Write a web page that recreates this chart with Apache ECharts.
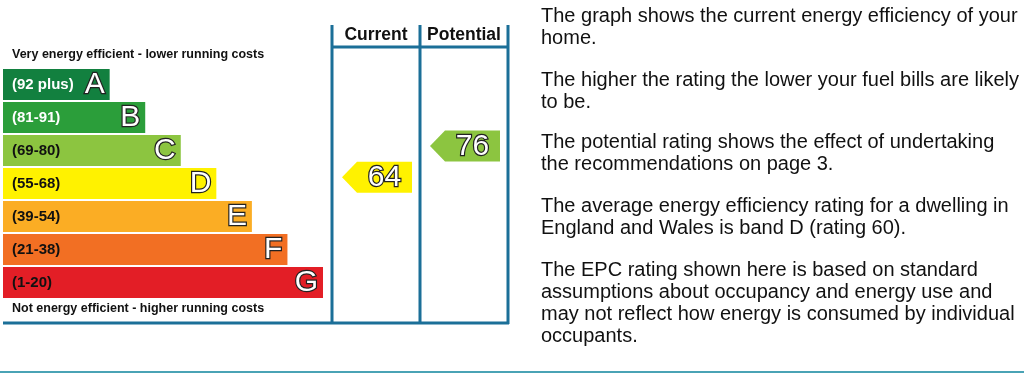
<!DOCTYPE html>
<html>
<head>
<meta charset="utf-8">
<script src="https://cdn.jsdelivr.net/npm/echarts@6/dist/echarts.min.js"></script>
<style>
html,body{margin:0;padding:0;background:#fff;}
#chart{width:1024px;height:373px;}
</style>
</head>
<body>
<div id="chart"></div>
<script>
// ---- data ----
const bands = ['A', 'B', 'C', 'D', 'E', 'F', 'G'];
const rangeLabels = ['(92 plus)', '(81-91)', '(69-80)', '(55-68)', '(39-54)', '(21-38)', '(1-20)'];
const bandLow = [92, 81, 69, 55, 39, 21, 1];
const bandHigh = [100, 91, 80, 68, 54, 38, 20];
const barLengths = [3, 4, 5, 6, 7, 8, 9];
const columns = ['Current', 'Potential'];
const ratings = [64, 76];
const topNote = 'Very energy efficient - lower running costs';
const bottomNote = 'Not energy efficient - higher running costs';
const paragraphs = [
  'The graph shows the current energy efficiency of your\nhome.',
  'The higher the rating the lower your fuel bills are likely\nto be.',
  'The potential rating shows the effect of undertaking\nthe recommendations on page 3.',
  'The average energy efficiency rating for a dwelling in\nEngland and Wales is band D (rating 60).',
  'The EPC rating shown here is based on standard\nassumptions about occupancy and energy use and\nmay not reflect how energy is consumed by individual\noccupants.'
];

// ---- styles ----
const bandColors = ['#12803f', '#2b9e3a', '#8cc540', '#fff200', '#fbad24', '#f26f23', '#e31e26'];
const labelColors = ['#ffffff', '#ffffff', '#111111', '#111111', '#111111', '#111111', '#111111'];
const lineColor = '#1b6f98';
const FONT = '"Liberation Sans", Arial, sans-serif';

function bandOf(v) {
  for (let i = 0; i < bands.length; i++) if (v >= bandLow[i]) return i;
  return bands.length - 1;
}
const arrowData = ratings.map((v, i) => [i, bandOf(v), v]);

const chart = echarts.init(document.getElementById('chart'), null, {renderer: 'canvas'});

const paraTops = [5, 69, 131, 195, 259];

const option = {
  animation: false,
  textStyle: {fontFamily: FONT},
  grid: [
    {left: 3, top: 68, width: 320, height: 231},
    {left: 332, top: 68, width: 176, height: 231}
  ],
  xAxis: [
    {gridIndex: 0, type: 'value', min: 0, max: 9, show: false},
    {gridIndex: 1, type: 'category', data: columns, position: 'top',
     axisLine: {show: false}, axisTick: {show: false}, splitLine: {show: false},
     axisLabel: {show: true, interval: 0, hideOverlap: false, margin: 24, fontSize: 17.5, fontWeight: 'bold', color: '#111', fontFamily: FONT}}
  ],
  yAxis: [
    {gridIndex: 0, type: 'category', data: bands, inverse: true, show: false},
    {gridIndex: 1, type: 'category', data: bands, inverse: true, show: false}
  ],
  series: [
    {
      type: 'bar', xAxisIndex: 0, yAxisIndex: 0, barWidth: 31,
      data: barLengths.map((v, i) => ({
        value: v,
        itemStyle: {color: bandColors[i]},
        label: {color: labelColors[i]}
      })),
      label: {
        show: true, position: 'insideLeft', distance: 9,
        fontSize: 15, fontWeight: 'bold', fontFamily: FONT,
        formatter: p => rangeLabels[p.dataIndex]
      }
    },
    {
      type: 'bar', xAxisIndex: 0, yAxisIndex: 0, barWidth: 31, barGap: '-100%',
      data: barLengths,
      itemStyle: {color: 'rgba(0,0,0,0)'},
      label: {
        show: true, position: 'insideRight', distance: 5,
        fontSize: 30, fontFamily: FONT, color: '#ffffff',
        textBorderColor: '#222222', textBorderWidth: 2.4,
        formatter: p => bands[p.dataIndex]
      }
    },
    {
      type: 'custom', xAxisIndex: 1, yAxisIndex: 1,
      data: arrowData,
      renderItem: function (params, api) {
        const col = api.value(0), b = api.value(1), v = api.value(2);
        const c = api.coord([col, b]);
        const sz = api.size([1, 1]);
        const cw = sz[0], bh = sz[1];
        const frac = (v - bandLow[b]) / (bandHigh[b] - bandLow[b]);
        const yc = c[1] - bh / 2 + (1 - frac) * bh;
        const h = 31;
        const x0 = c[0] - cw / 2 + 10;
        const x1 = c[0] + cw / 2 - 8;
        const tip = 15;
        return {
          type: 'group',
          children: [
            {type: 'polygon', shape: {points: [[x0, yc], [x0 + tip, yc - h / 2], [x1, yc - h / 2], [x1, yc + h / 2], [x0 + tip, yc + h / 2]]},
             style: {fill: bandColors[b]}},
            {type: 'text', style: {text: String(v), x: (x0 + tip + x1) / 2, y: yc + 1, align: 'center', verticalAlign: 'middle',
             font: '30px ' + FONT, fill: '#ffffff', stroke: '#222222', lineWidth: 2.4}}
          ]
        };
      }
    }
  ],
  graphic: [
    {type: 'line', shape: {x1: 332, y1: 25, x2: 332, y2: 324}, style: {stroke: lineColor, lineWidth: 3}},
    {type: 'line', shape: {x1: 420, y1: 25, x2: 420, y2: 324}, style: {stroke: lineColor, lineWidth: 3}},
    {type: 'line', shape: {x1: 508, y1: 25, x2: 508, y2: 324}, style: {stroke: lineColor, lineWidth: 3}},
    {type: 'line', shape: {x1: 332, y1: 47, x2: 508, y2: 47}, style: {stroke: lineColor, lineWidth: 3}},
    {type: 'line', shape: {x1: 3, y1: 323, x2: 509, y2: 323}, style: {stroke: lineColor, lineWidth: 3}},
    {type: 'line', shape: {x1: 0, y1: 372, x2: 1024, y2: 372}, style: {stroke: '#4aa3b5', lineWidth: 2}},
    {type: 'text', x: 12, y: 55, style: {text: topNote, font: 'bold 12.5px ' + FONT, fill: '#111', verticalAlign: 'middle'}},
    {type: 'text', x: 12, y: 309, style: {text: bottomNote, font: 'bold 12.5px ' + FONT, fill: '#111', verticalAlign: 'middle'}}
  ].concat(paragraphs.map((t, i) => ({
    type: 'text', x: 541, y: paraTops[i],
    style: {text: t, font: '20px ' + FONT, fill: '#111', lineHeight: 22, verticalAlign: 'top'}
  })))
};
chart.setOption(option);
</script>
</body>
</html>
